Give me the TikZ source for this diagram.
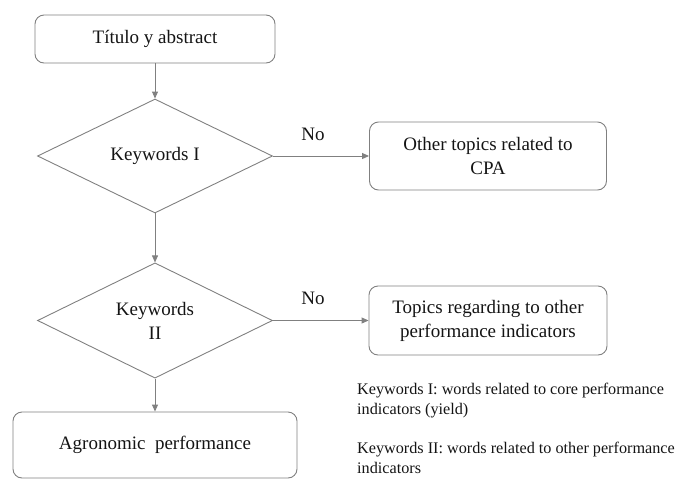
\documentclass[tikz,border=0pt]{standalone}
\usepackage{fontspec}
\setmainfont{Liberation Serif}
\usetikzlibrary{shapes.geometric,arrows.meta}
\definecolor{linegray}{RGB}{128,128,128}
\definecolor{textblack}{RGB}{20,20,20}
\tikzset{
  rbox/.style={draw=linegray, line width=0.9pt, rounded corners=9pt, align=center, font=\fontsize{19}{24}\selectfont, text=textblack, inner sep=0pt},
  dbox/.style={draw=linegray, line width=0.9pt, diamond, align=center, font=\fontsize{19}{24}\selectfont, text=textblack, inner sep=0pt, minimum width=235pt, minimum height=114pt},
  conn/.style={draw=linegray, line width=0.9pt, -{Triangle[length=7pt,width=6pt]}},
  lbl/.style={font=\fontsize{19}{20}\selectfont, text=textblack},
  note/.style={font=\fontsize{16.2}{20}\selectfont, text=textblack, align=left, anchor=north west, inner sep=0pt}
}
\begin{document}
\begin{tikzpicture}[x=1pt,y=-1pt]
\useasboundingbox (0,0) rectangle (678,480);
\node[rbox, minimum width=240pt, minimum height=48pt] (t) at (155,39) {Título y abstract};
\node[dbox] (k1) at (155,156) {Keywords I};
\node[rbox, minimum width=237pt, minimum height=68pt] (o1) at (488,156) {Other topics related to\\CPA};
\node[dbox] (k2) at (155,320.5) {Keywords\\II};
\node[rbox, minimum width=238pt, minimum height=69pt] (o2) at (488,320.5) {Topics regarding to other\\performance indicators};
\node[rbox, minimum width=284pt, minimum height=66pt] (a) at (155,445) {Agronomic \ performance};
\node[lbl] (no1) at (313,134) {No};
\node[lbl] (no2) at (313,298) {No};
\node[note] (n1) at (357,383) {Keywords I: words related to core performance\\indicators (yield)};
\node[note] (n2) at (357,442) {Keywords II: words related to other performance\\indicators};
\draw[conn] (t.south) -- (k1.north);
\draw[conn] (k1.east) -- (o1.west);
\draw[conn] (k1.south) -- (k2.north);
\draw[conn] (k2.east) -- (o2.west);
\draw[conn] (k2.south) -- (a.north);
\end{tikzpicture}
\end{document}
